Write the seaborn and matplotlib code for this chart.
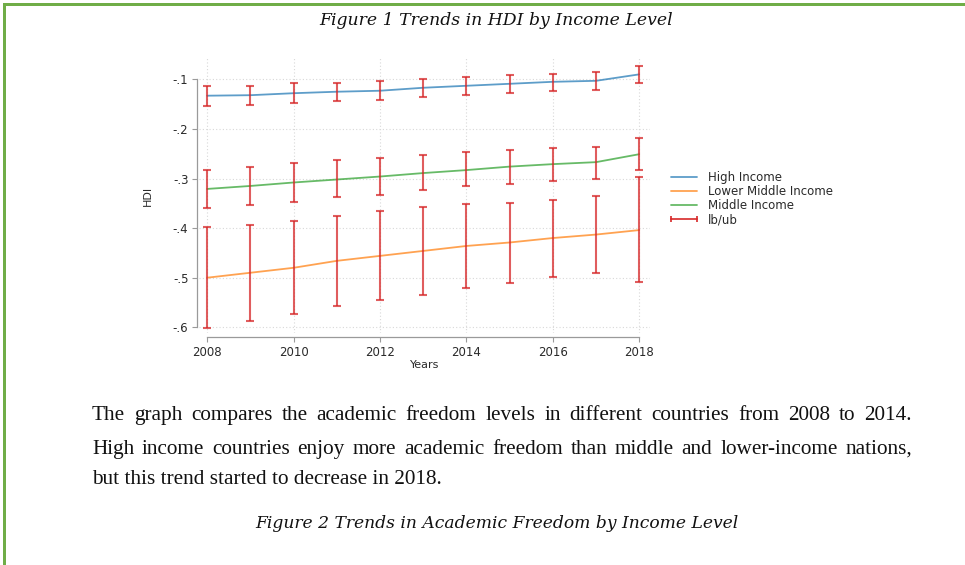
import matplotlib
matplotlib.use("Agg")
import matplotlib.pyplot as plt
import seaborn as sns
import pandas as pd
import numpy as np
from matplotlib.lines import Line2D
from matplotlib.legend_handler import HandlerLine2D
from matplotlib.patches import Rectangle

# ---------------- data ----------------
years = [2008, 2009, 2010, 2011, 2012, 2013, 2014, 2015, 2016, 2017, 2018]

high_mean = [-0.133, -0.132, -0.128, -0.125, -0.123, -0.117, -0.113, -0.109, -0.105, -0.103, -0.090]
high_lb = [-0.153, -0.152, -0.148, -0.144, -0.142, -0.136, -0.132, -0.127, -0.124, -0.121, -0.107]
high_ub = [-0.113, -0.113, -0.108, -0.107, -0.104, -0.099, -0.095, -0.091, -0.089, -0.086, -0.073]

lower_mean = [-0.500, -0.490, -0.480, -0.466, -0.456, -0.446, -0.436, -0.429, -0.420, -0.413, -0.404]
lower_lb = [-0.602, -0.587, -0.573, -0.558, -0.545, -0.534, -0.520, -0.510, -0.498, -0.490, -0.509]
lower_ub = [-0.398, -0.393, -0.386, -0.375, -0.365, -0.357, -0.351, -0.349, -0.343, -0.336, -0.296]

middle_mean = [-0.321, -0.315, -0.308, -0.302, -0.296, -0.289, -0.283, -0.276, -0.271, -0.267, -0.251]
middle_lb = [-0.360, -0.353, -0.347, -0.338, -0.333, -0.323, -0.315, -0.311, -0.306, -0.300, -0.283]
middle_ub = [-0.283, -0.276, -0.269, -0.263, -0.259, -0.253, -0.247, -0.242, -0.239, -0.236, -0.219]

series_names = ["High Income", "Lower Middle Income", "Middle Income"]
ci_label = "lb/ub"
x_ticks = [2008, 2010, 2012, 2014, 2016, 2018]
y_ticks = [-0.6, -0.5, -0.4, -0.3, -0.2, -0.1]
y_ticklabels = ["-.6", "-.5", "-.4", "-.3", "-.2", "-.1"]

title_text = "Figure 1 Trends in HDI by Income Level"
para_lines = [
    "The graph compares the academic freedom levels in different countries from 2008 to 2014.",
    "High income countries enjoy more academic freedom than middle and lower-income nations,",
    "but this trend started to decrease in 2018.",
]
caption_text = "Figure 2 Trends in Academic Freedom by Income Level"

# ---------------- figure ----------------
W, H = 965, 565
sns.set_theme(style="white")
plt.rcParams["font.family"] = ["DejaVu Sans"]
fig = plt.figure(figsize=(W / 100, H / 100), dpi=100)
fig.patch.set_facecolor("white")

def fx(px):
    return px / W

def fy(py):
    return 1 - py / H

# page border (green)
fig.add_artist(Rectangle((fx(3), fy(5.5)), 1, fy(3.3) - fy(5.5), transform=fig.transFigure,
                         facecolor="#70ad47", edgecolor="none"))
fig.add_artist(Rectangle((fx(3.3), 0), fx(3), fy(3.3), transform=fig.transFigure,
                         facecolor="#70ad47", edgecolor="none"))

# axes (plot region)
L, R, T, B = 199, 650, 58, 333
ax = fig.add_axes([fx(L), fy(B), fx(R) - fx(L), fy(T) - fy(B)])

blue, orange, green, red = "#1f77b4", "#ff7f0e", "#2ca02c", "#d62728"

df = pd.DataFrame({
    "Years": years * 3,
    "HDI": high_mean + lower_mean + middle_mean,
    "group": [series_names[0]] * len(years) + [series_names[1]] * len(years) + [series_names[2]] * len(years),
})
sns.lineplot(data=df, x="Years", y="HDI", hue="group", hue_order=series_names,
             palette=[blue, orange, green], linewidth=1.3, alpha=0.72, ax=ax, legend=False)

for mean, lb, ub in [(high_mean, high_lb, high_ub), (lower_mean, lower_lb, lower_ub),
                     (middle_mean, middle_lb, middle_ub)]:
    m = np.array(mean); lo = np.array(lb); hi = np.array(ub)
    ax.errorbar(years, m, yerr=[m - lo, hi - m], fmt="none", ecolor=red, alpha=0.75,
                elinewidth=1.5, capsize=2.8, capthick=1.5, zorder=5)

ax.set_xlim(2007.81, 2018.25)
ax.set_ylim(-0.6115, -0.057)
ax.set_xticks(x_ticks)
ax.set_yticks(y_ticks)
ax.set_yticklabels(y_ticklabels)

ax.grid(True, color="#d8d8d8", linestyle=(0, (1, 2)), linewidth=0.8)
for s in ["top", "right"]:
    ax.spines[s].set_visible(False)
ax.spines["left"].set_position(("outward", 1.5))
ax.spines["bottom"].set_position(("outward", 3))
ax.spines["left"].set_bounds(-0.6, -0.1)
ax.spines["bottom"].set_bounds(2008, 2018)
for s in ["left", "bottom"]:
    ax.spines[s].set_color("#9a9a9a")
    ax.spines[s].set_linewidth(0.9)

ax.tick_params(axis="both", which="major", direction="out", length=3.6, width=0.8,
               color="#9a9a9a", labelsize=8.5, labelcolor="#2a2a2a", pad=2.5,
               left=True, bottom=True)
ax.set_xlabel("Years", fontsize=8.0, color="#2a2a2a", labelpad=1.0)
ax.set_ylabel("HDI", fontsize=8.0, color="#2a2a2a", labelpad=14)

# legend
handles = [Line2D([0], [0], color=c, lw=1.3, alpha=0.72) for c in (blue, orange, green)]
ci_handle = Line2D([0, 1], [0, 0], color=red, lw=1.4, alpha=0.85, marker="|", markersize=5,
                   markeredgewidth=1.4)
handles.append(ci_handle)
leg = fig.legend(handles, series_names + [ci_label], loc="upper left",
                 bbox_to_anchor=(fx(671), fy(171)), frameon=False, fontsize=8.5,
                 handlelength=2.2, handletextpad=0.95, labelspacing=0.1, borderaxespad=0,
                 borderpad=0, handler_map={ci_handle: HandlerLine2D(numpoints=2, marker_pad=0)})
for t in leg.get_texts():
    t.set_color("#2a2a2a")

# document text
fig.text(fx(496), fy(25), title_text, ha="center", va="baseline", family="DejaVu Serif",
         style="italic", fontsize=12.4, color="#111111")
fig.text(fx(497), fy(528), caption_text, ha="center", va="baseline", family="DejaVu Serif",
         style="italic", fontsize=12.3, color="#111111")

renderer = fig.canvas.get_renderer()
para_kw = dict(family="Liberation Serif", fontsize=15.3, color="#111111", va="baseline")
baselines = [420, 454, 484]
x0, x1 = 92, 912
for i, (line, yb) in enumerate(zip(para_lines, baselines)):
    if i < len(para_lines) - 1:
        words = line.split(" ")
        texts = [fig.text(0, fy(yb), w, ha="left", **para_kw) for w in words]
        widths = [t.get_window_extent(renderer).width for t in texts]
        gap = (x1 - x0 - sum(widths)) / (len(words) - 1)
        x = x0
        for t, w in zip(texts, widths):
            t.set_x(fx(x))
            x += w + gap
    else:
        fig.text(fx(x0), fy(yb), line, ha="left", **para_kw)

fig.savefig("out.png", dpi=100, facecolor="white")
